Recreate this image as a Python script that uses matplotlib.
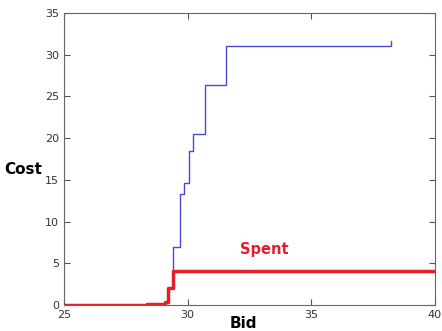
import numpy as np
import matplotlib.pyplot as plt

# blue curve (step, post)
bid_cost = [29.41, 29.41, 29.69, 29.86, 30.07, 30.23, 30.71, 31.57, 38.21, 38.21]
cost = [4.1, 7.0, 13.3, 14.6, 18.5, 20.5, 26.4, 31.1, 31.1, 31.7]

# red curve "Spent"
bid_spent = [25.0, 28.34, 29.08, 29.22, 29.42, 40.0]
spent = [0.0, 0.1, 0.3, 2.0, 4.1, 4.1]

fig = plt.figure(figsize=(4.42, 3.31), dpi=100)
ax = fig.add_axes([64/442, 1 - 305/331, (435-64)/442, (305-13)/331])

ax.step(bid_cost, cost, where='post', color='#4a4ad6', lw=1.0)
ax.step(bid_spent, spent, where='post', color='#e2202a', lw=2.5)

ax.text(33.1, 6.7, 'Spent', color='#e2202a', fontsize=10.5, fontweight='bold',
        ha='center', va='center')

ax.set_xlim(25, 40)
ax.set_ylim(0, 35)
ax.set_xticks([25, 30, 35, 40])
ax.set_yticks(np.arange(0, 36, 5))
ax.tick_params(direction='in', top=True, right=True, labelsize=8,
               labelcolor='#333333', color='#555555', length=4)
for s in ax.spines.values():
    s.set_color('#666666')

fig.text(243/442, 1 - 323/331, 'Bid', fontsize=11, fontweight='bold',
         ha='center', va='center')
fig.text(23/442, 1 - 169/331, 'Cost', fontsize=11, fontweight='bold',
         ha='center', va='center')

fig.savefig('out.png', dpi=100)
